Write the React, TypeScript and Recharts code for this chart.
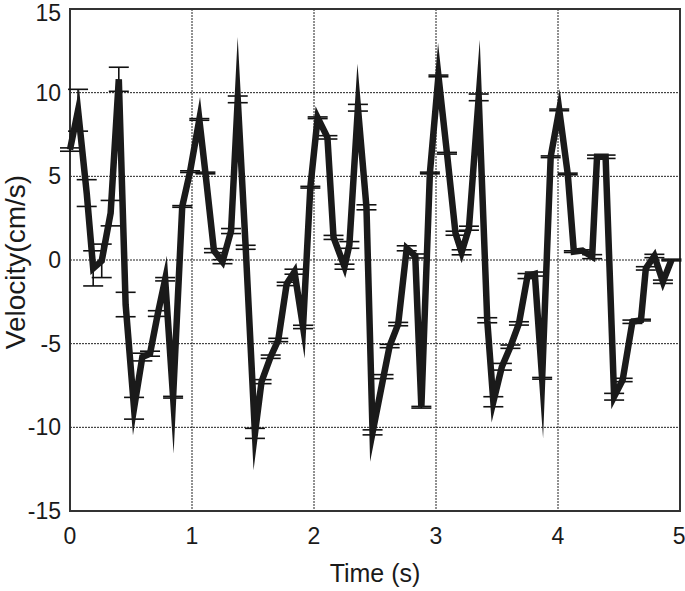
import React from 'react';
import { LineChart, Line, XAxis, YAxis, CartesianGrid, ErrorBar, ReferenceArea } from 'recharts';

const times = [0, 0.066, 0.137, 0.19, 0.26, 0.333, 0.4, 0.456, 0.525, 0.593, 0.656, 0.72, 0.78, 0.845, 0.92, 0.984,
  1.06, 1.11, 1.18, 1.25, 1.32, 1.375, 1.44, 1.516, 1.57, 1.645, 1.707, 1.776, 1.84, 1.91, 1.97,
  2.03, 2.11, 2.16, 2.25, 2.29, 2.36, 2.43, 2.48, 2.57, 2.62, 2.69, 2.76, 2.83, 2.88, 2.95,
  3.02, 3.09, 3.16, 3.21, 3.27, 3.35, 3.42, 3.47, 3.54, 3.61, 3.68, 3.75, 3.81, 3.87, 3.94,
  4.01, 4.08, 4.13, 4.2, 4.28, 4.32, 4.39, 4.46, 4.53, 4.61, 4.68, 4.72, 4.79, 4.86, 4.93];

const velocity = [6.6, 8.95, 4.0, -0.5, -0.05, 2.8, 10.8, -2.66, -8.86, -5.8, -5.6, -3.2, -1.15, -8.2, 3.2, 5.28,
  8.4, 5.2, 0.56, -0.1, 1.73, 9.6, 0.76, -10.36, -7.27, -5.78, -4.78, -1.43, -0.7, -4.0, 4.35,
  8.5, 7.33, 1.35, -0.4, 0.9, 9.1, 3.15, -10.3, -6.97, -5.14, -3.83, 0.7, 0.24, -8.8, 5.2,
  11.0, 6.38, 1.6, 0.46, 1.9, 9.72, -3.6, -8.47, -6.38, -5.18, -3.79, -0.96, -0.84, -7.07, 6.17,
  8.97, 5.14, 0.5, 0.56, 0.2, 6.17, 6.17, -8.17, -7.17, -3.69, -3.59, -0.5, 0.24, -1.3, 0.0];

const errors = [0.1, 1.25, 0.8, 1.05, 1.0, 0.76, 0.72, 0.73, 0.65, 0.23, 0.15, 0.17, 0.1, 0.05, 0.05, 0.05,
  0.05, 0.05, 0.12, 0.12, 0.15, 0.2, 0.12, 0.3, 0.12, 0.1, 0.1, 0.1, 0.15, 0.1, 0.05,
  0.05, 0.1, 0.12, 0.15, 0.2, 0.2, 0.15, 0.15, 0.12, 0.1, 0.1, 0.15, 0.12, 0.05, 0.05,
  0.05, 0.05, 0.12, 0.15, 0.12, 0.2, 0.15, 0.3, 0.2, 0.1, 0.1, 0.15, 0.12, 0.05, 0.05,
  0.05, 0.05, 0.05, 0.05, 0.12, 0.1, 0.1, 0.2, 0.1, 0.1, 0.05, 0.1, 0.1, 0.1, 0.05];

const xTicks = [0, 1, 2, 3, 4, 5];
const yTicks = [-15, -10, -5, 0, 5, 10, 15];

const data = times.map((t, i) => ({ t, v: velocity[i], err: errors[i] }));

const FONT = '"Liberation Sans", Arial, sans-serif';

export default function App() {
  return (
    <div style={{ position: 'absolute', left: 0, top: 0, background: '#fff' }}>
      <LineChart width={685} height={591} data={data} margin={{ top: 9, right: 5, bottom: 0, left: 0 }}>
        <CartesianGrid stroke="#222" strokeDasharray="2 1" strokeWidth={1} />
        <XAxis
          type="number"
          dataKey="t"
          domain={[0, 5]}
          ticks={xTicks}
          height={80}
          axisLine={false}
          tickLine={false}
          tickSize={0}
          tickMargin={17}
          tick={{ fontSize: 23, fill: '#1a1a1a', fontFamily: FONT }}
          label={{
            content: () => (
              <text x={375} y={582} textAnchor="middle" fontSize={25} fill="#1a1a1a" fontFamily={FONT}>
                Time (s)
              </text>
            ),
          }}
        />
        <YAxis
          type="number"
          domain={[-15, 15]}
          ticks={yTicks}
          width={70}
          axisLine={false}
          tickLine={false}
          tickSize={0}
          tickMargin={9}
          tick={{ fontSize: 23, fill: '#1a1a1a', fontFamily: FONT }}
          label={{
            content: () => (
              <text
                x={25}
                y={262}
                transform="rotate(-90, 25, 262)"
                textAnchor="middle"
                fontSize={28}
                fill="#1a1a1a"
                fontFamily={FONT}
              >
                Velocity(cm/s)
              </text>
            ),
          }}
        />
        <ReferenceArea x1={0} x2={5} y1={-15} y2={15} fill="none" fillOpacity={0} stroke="#333" strokeWidth={2} />
        <Line
          type="linear"
          dataKey="v"
          stroke="#1a1a1a"
          strokeWidth={6.5}
          strokeLinejoin="miter"
          strokeMiterlimit={20}
          strokeLinecap="butt"
          dot={false}
          activeDot={false}
          isAnimationActive={false}
        >
          <ErrorBar dataKey="err" direction="y" width={10} stroke="#111" strokeWidth={1.6} />
        </Line>
      </LineChart>
    </div>
  );
}
